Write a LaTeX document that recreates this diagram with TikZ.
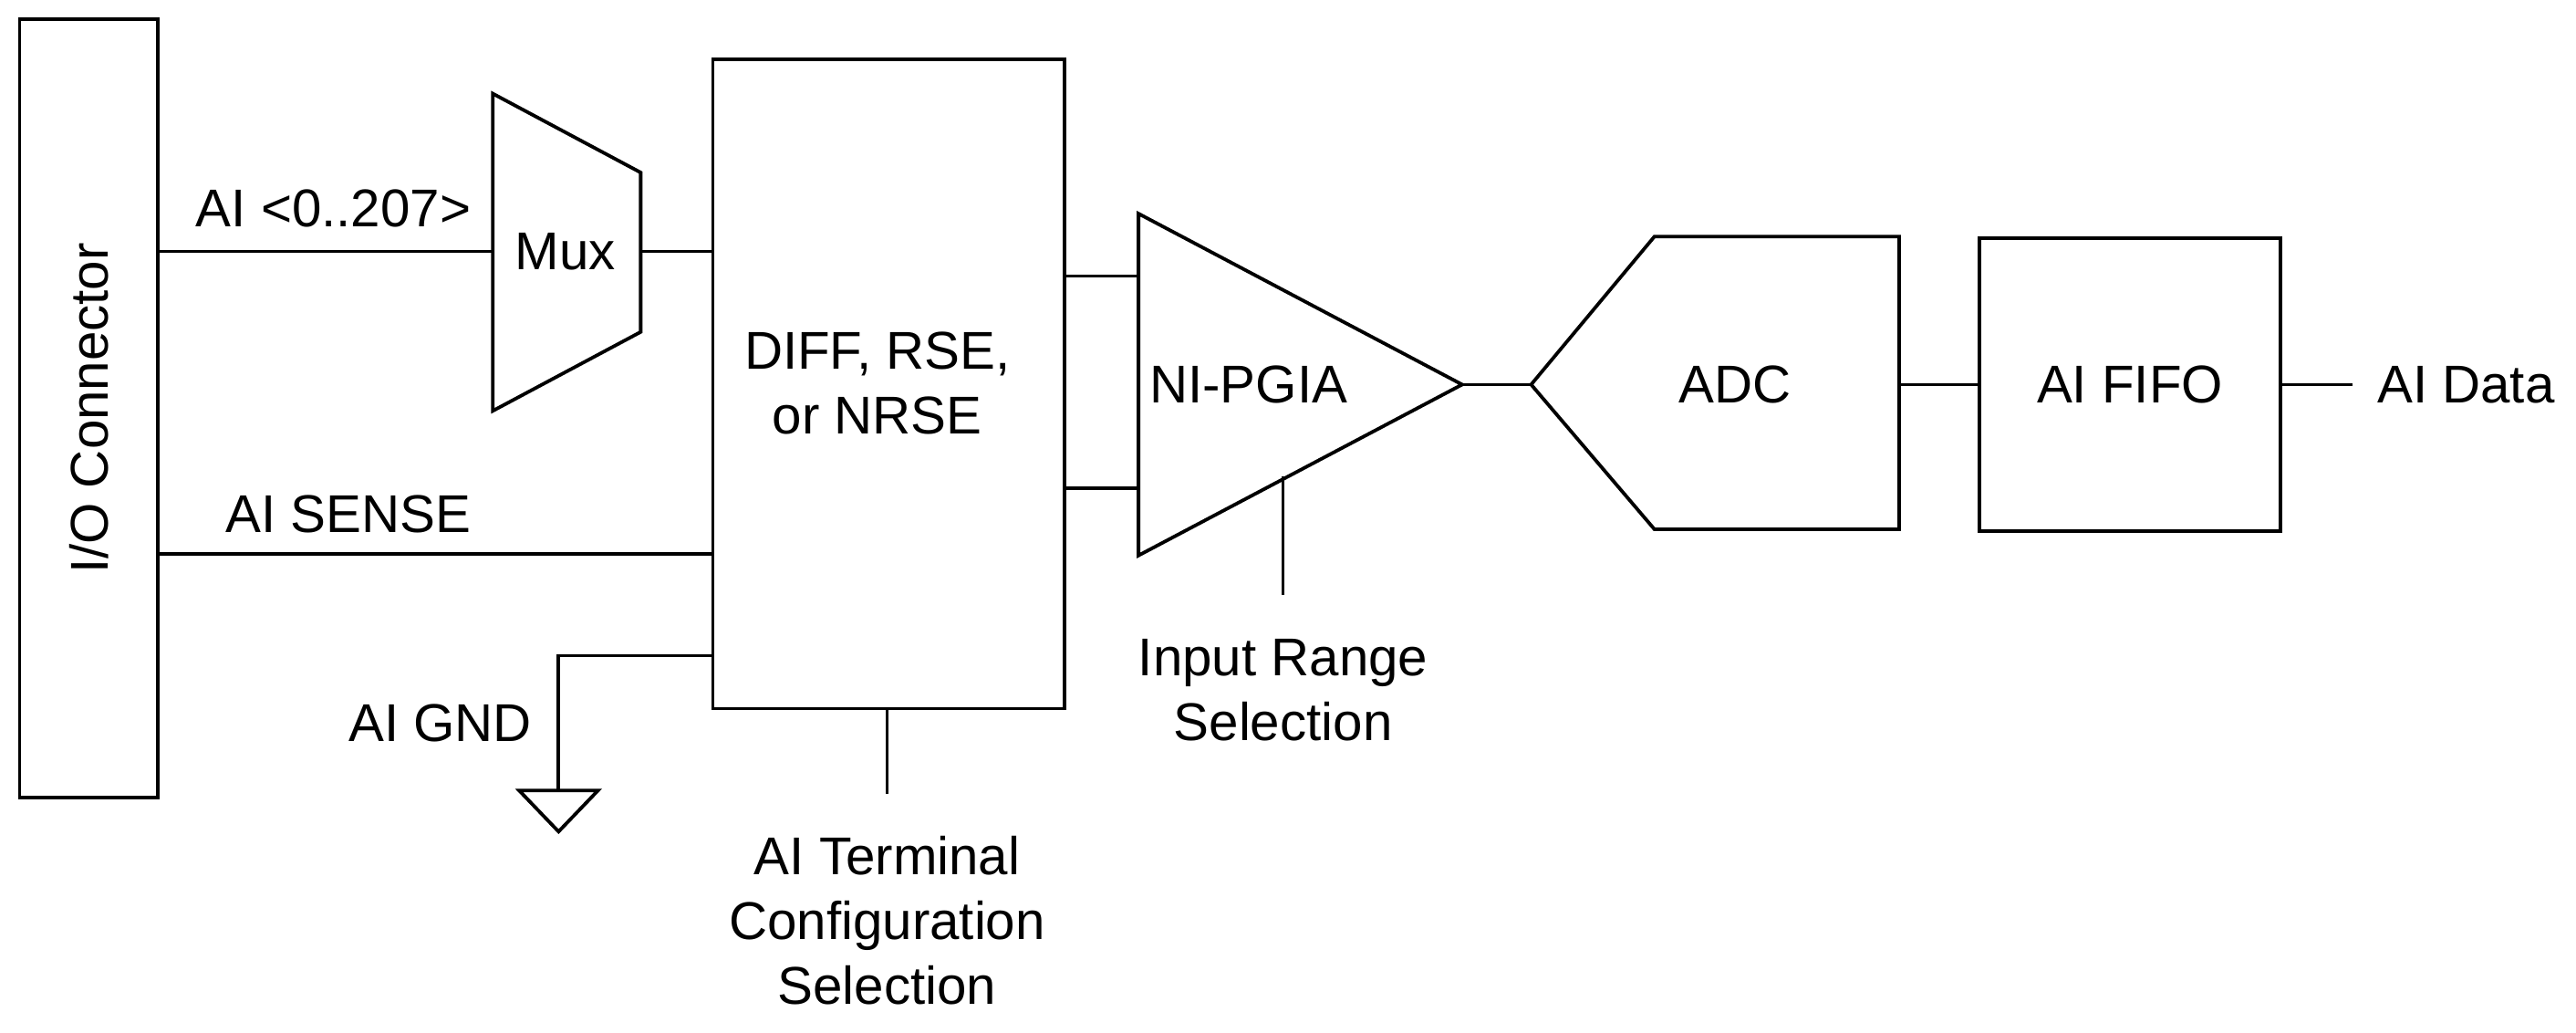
\documentclass[tikz,border=0pt]{standalone}
\usepackage{fontspec}
\setmainfont{Liberation Sans}
\begin{document}
\begin{tikzpicture}[x=0.01cm,y=-0.01cm,line width=0.6pt,
  lbl/.style={font=\fontsize{9.2}{11.2}\selectfont,align=center,inner sep=0pt},
  box/.style={draw,inner sep=0pt}]
\useasboundingbox (0,0) rectangle (1568,628.5);
% I/O connector
\node[box,minimum width=0.84cm,minimum height=4.73cm] (io) at (54,248.5) {};
\node[lbl,rotate=90] (iot) at (io.center) {I/O Connector};
% Mux
\draw (300,57) -- (390,105) -- (390,202) -- (300,250) -- cycle;
\coordinate (muxin) at (300,153);
\coordinate (muxout) at (390,153);
\node[lbl] (mux) at (344,153) {Mux};
% DIFF box
\node[box,minimum width=2.14cm,minimum height=3.95cm] (diff) at (541,233.5) {};
\node[lbl] (difft) at (534,233) {DIFF, RSE,\\or NRSE};
% lines left
\coordinate (ioa) at (96,153);
\coordinate (ios) at (96,337);
\coordinate (ds) at (434,337);
\coordinate (dm) at (434,153);
\coordinate (dg) at (434,399);
\draw (ioa) -- (muxin);
\node[lbl] (ail) at (203,127) {AI <0..207>};
\draw (muxout) -- (dm);
\draw (ios) -- (ds);
\node[lbl] (aisense) at (212,313) {AI SENSE};
\coordinate (gtop) at (340,481);
\draw (dg) -- (340,399) -- (gtop);
\draw (316,481) -- (364,481) -- (340,506) -- cycle;
\node[lbl] (aignd) at (268,440) {AI GND};
\coordinate (tcb) at (540,431);
\coordinate (tce) at (540,483);
\draw (tcb) -- (tce);
\node[lbl] (tct) at (540,560) {AI Terminal\\Configuration\\Selection};
% amp
\draw (648,168) -- (693,168);
\draw (648,297) -- (693,297);
\draw (693,130) -- (890,234) -- (693,338) -- cycle;
\node[lbl] (amp) at (760,234) {NI-PGIA};
\draw (781,290) -- (781,362);
\node[lbl] (irs) at (781,420) {Input Range\\Selection};
% ADC
\draw (890,234) -- (932,234);
\draw (932,234) -- (1007,144) -- (1156,144) -- (1156,322) -- (1007,322) -- cycle;
\node[lbl] (adc) at (1056,234) {ADC};
% FIFO
\node[box,minimum width=1.83cm,minimum height=1.78cm] (fifo) at (1296.5,234) {};
\node[lbl] (fifot) at (fifo.center) {AI FIFO};
\draw (1156,234) -- (fifo.west);
\node[lbl,anchor=west] (data) at (1446,234) {AI Data};
\draw (fifo.east) -- (1432,234);
\end{tikzpicture}
\end{document}
